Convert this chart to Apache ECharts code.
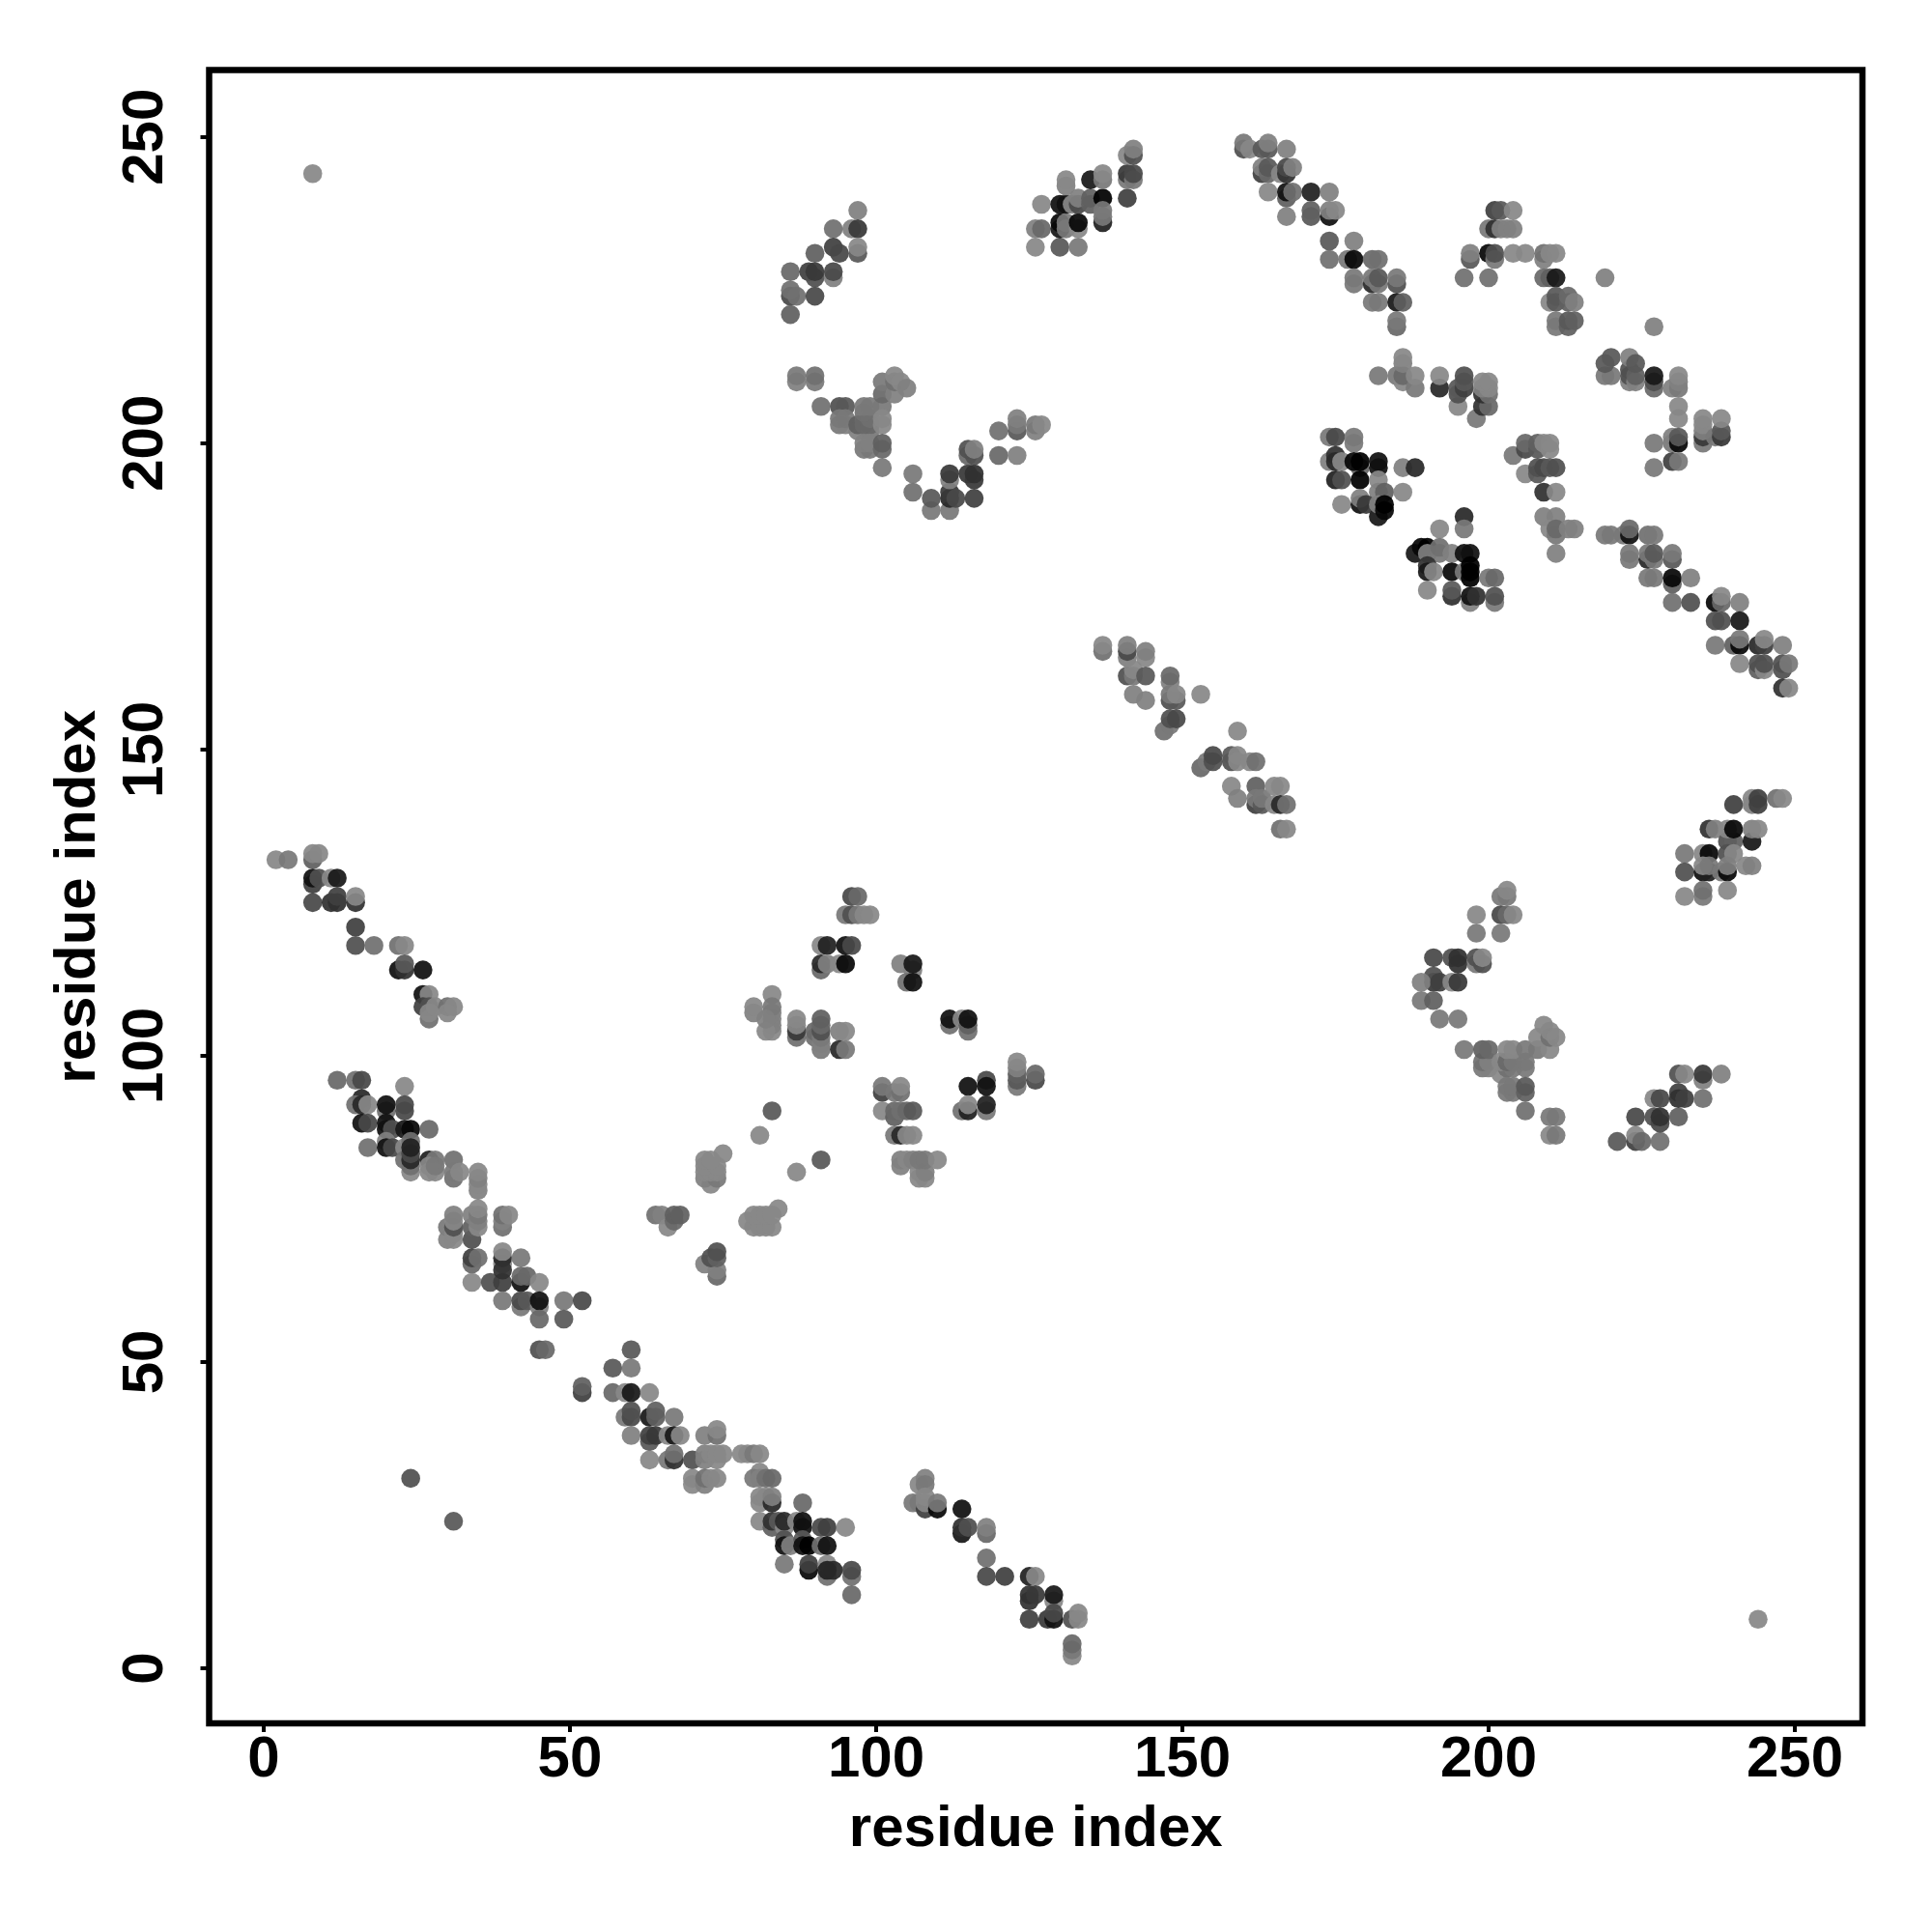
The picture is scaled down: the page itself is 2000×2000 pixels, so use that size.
<!DOCTYPE html>
<html><head><meta charset="utf-8">
<style>html,body{margin:0;padding:0;background:#fff}#c{width:2000px;height:2000px}</style>
<script src="https://cdn.jsdelivr.net/npm/echarts@6/dist/echarts.min.js"></script>
</head><body><div id="c"></div>
<script>
// Each contact: [residue x, residue y, grey level]
const outliers=[[8,244,0x88],[244,8,0x88],[24,31,0x50],[31,24,0x58]];
const bandA=[[2,132,0x88],[4,132,0x78],[8,132,0x60],[8,133,0x88],[9,133,0x88],[8,128,0x40],[8,129,0x10],[9,129,0x50],[11,129,0x88],[12,129,0x18],[8,125,0x48],[11,125,0x30],[12,125,0x30],[12,126,0x40],[15,125,0x30],[15,126,0x88],[15,121,0x40],[15,118,0x50],[18,118,0x70],[22,118,0x70],[23,118,0x88],[22,114,0x10],[23,114,0x30],[23,115,0x58],[26,114,0x10],[26,110,0x10],[27,110,0x88],[26,108,0x40],[27,108,0x50],[27,106,0x70],[27,107,0x88],[28,108,0x88],[30,108,0x70],[30,107,0x88],[31,108,0x88]];
const bandB=[[12,96,0x68],[15,96,0x70],[16,96,0x48],[23,95,0x88],[16,93,0x28],[15,92,0x70],[16,92,0x28],[17,92,0x88],[20,91,0x70],[20,92,0x10],[23,91,0x48],[23,92,0x48],[16,89,0x10],[17,89,0x48],[20,89,0x10],[20,88,0x10],[21,88,0x50],[23,88,0x18],[24,88,0x08],[27,88,0x68],[17,85,0x70],[20,86,0x80],[20,85,0x10],[21,85,0x48],[23,85,0x88],[24,86,0x70],[24,81,0x88],[24,82,0x70],[23,83,0x70],[24,83,0x28],[24,84,0x48],[24,85,0x20],[27,83,0x20],[28,83,0x78],[27,81,0x88],[28,81,0x88],[27,82,0x88],[28,82,0x78],[31,83,0x70],[31,80,0x70],[31,81,0x78],[32,81,0x88],[35,78,0x80],[35,79,0x88],[35,80,0x80],[35,81,0x88],[30,72,0x78],[30,70,0x80],[31,70,0x88],[31,71,0x88],[31,72,0x50],[31,73,0x88],[31,74,0x80],[34,70,0x50],[34,72,0x60],[34,74,0x80],[35,72,0x88],[35,73,0x80],[35,74,0x78],[35,75,0x88],[39,72,0x70],[39,73,0x80],[39,74,0x70],[40,74,0x88],[34,66,0x68],[34,67,0x40],[35,67,0x70],[39,66,0x88],[39,67,0x28],[39,68,0x88],[42,67,0x78],[34,63,0x88],[37,63,0x50],[39,63,0x40],[39,65,0x30],[42,63,0x10],[42,64,0x68],[43,64,0x68],[45,63,0x88],[39,60,0x78],[42,59,0x78],[42,60,0x48],[43,60,0x58],[45,59,0x80],[45,60,0x10],[45,57,0x68],[49,60,0x78],[52,60,0x48],[49,57,0x58],[45,52,0x50],[46,52,0x68]];
const bandC=[[60,52,0x58],[57,49,0x58],[60,49,0x78],[52,45,0x40],[52,46,0x60],[57,45,0x68],[59,45,0x88],[60,45,0x18],[63,45,0x88],[59,41,0x78],[60,41,0x48],[60,42,0x50],[63,41,0x18],[64,41,0x60],[64,42,0x60],[67,41,0x78],[60,38,0x80],[63,37,0x58],[63,38,0x40],[64,38,0x38],[66,38,0x88],[67,38,0x18],[68,38,0x88],[63,34,0x88],[66,34,0x78],[67,34,0x30],[67,35,0x70],[70,34,0x50],[72,38,0x80],[74,38,0x70],[74,39,0x88],[72,34,0x80],[72,35,0x80],[73,35,0x88],[74,34,0x88],[74,35,0x88],[75,35,0x88],[70,30,0x88],[70,31,0x88],[72,30,0x80],[72,31,0x70],[73,31,0x88],[74,31,0x88],[78,35,0x88],[79,35,0x88],[80,35,0x78],[81,35,0x88],[81,32,0x88],[80,31,0x78],[81,31,0x80],[82,31,0x70],[83,31,0x68],[81,27,0x88],[81,28,0x88],[82,28,0x88],[83,27,0x28],[83,28,0x80],[88,27,0x68],[81,24,0x88],[83,23,0x60],[83,24,0x30],[84,24,0x58],[85,23,0x88],[85,24,0x28],[87,24,0x88],[88,23,0x10],[88,24,0x10],[91,23,0x48],[92,23,0x40],[95,23,0x88],[85,21,0x50],[85,20,0x10],[86,20,0x80],[88,21,0x58],[88,20,0x10],[89,20,0x00],[91,20,0x70],[92,20,0x10],[85,17,0x78],[89,16,0x08],[89,17,0x40],[92,15,0x70],[92,17,0x88],[92,16,0x20],[93,16,0x28],[96,15,0x70],[96,16,0x48],[96,12,0x68]];
const bandD=[[107,30,0x88],[108,31,0x80],[108,30,0x78],[106,27,0x78],[107,27,0x78],[108,26,0x40],[108,27,0x88],[108,28,0x88],[110,26,0x08],[110,27,0x78],[114,26,0x10],[114,22,0x18],[114,23,0x30],[115,23,0x50],[118,22,0x68],[118,23,0x80],[118,18,0x70],[118,15,0x48],[121,15,0x40],[125,15,0x20],[126,15,0x88],[125,11,0x30],[125,12,0x30],[126,12,0x38],[129,11,0x88],[129,12,0x18],[125,8,0x40],[128,8,0x38],[129,8,0x10],[129,9,0x48],[132,8,0x50],[133,8,0x88],[133,9,0x88],[132,2,0x88],[132,3,0x78],[132,4,0x68]];
const centreA=[[96,126,0x48],[97,126,0x68],[95,123,0x78],[96,123,0x50],[97,123,0x78],[98,123,0x88],[99,123,0x88],[91,118,0x88],[92,118,0x20],[95,118,0x10],[96,118,0x48],[91,114,0x68],[91,115,0x28],[92,115,0x80],[94,115,0x88],[95,115,0x08],[104,115,0x80],[106,114,0x80],[106,115,0x18],[105,112,0x70],[106,112,0x10],[83,110,0x88],[80,107,0x80],[80,108,0x88],[83,104,0x88],[83,105,0x80],[83,106,0x80],[83,107,0x80],[83,108,0x78],[82,104,0x88],[82,106,0x80],[87,103,0x70],[87,104,0x38],[87,105,0x88],[87,106,0x88],[90,103,0x70],[90,104,0x68],[91,101,0x78],[91,102,0x80],[91,103,0x78],[91,104,0x50],[91,105,0x68],[91,106,0x60],[94,104,0x80],[95,104,0x88],[94,101,0x28],[95,101,0x78],[112,105,0x70],[112,106,0x10],[114,106,0x88],[115,104,0x70],[115,105,0x60],[115,106,0x10],[123,95,0x78],[123,96,0x58],[123,97,0x60],[123,98,0x80],[123,99,0x88],[126,96,0x48],[126,97,0x68],[118,96,0x48],[118,95,0x10],[115,95,0x10],[114,91,0x70],[115,91,0x20],[115,92,0x88],[118,91,0x78],[118,92,0x20]];
const centreB=[[101,94,0x40],[101,95,0x78],[103,94,0x78],[104,94,0x70],[104,95,0x88],[101,91,0x88],[103,90,0x60],[103,91,0x68],[104,91,0x70],[105,91,0x68],[106,91,0x58],[103,87,0x78],[104,87,0x28],[105,87,0x88],[106,87,0x88],[104,82,0x80],[104,83,0x80],[105,83,0x88],[106,83,0x80],[107,80,0x88],[107,81,0x88],[108,80,0x88],[108,81,0x80],[107,83,0x78],[108,83,0x78],[110,83,0x88],[83,91,0x58],[81,87,0x88],[91,83,0x58],[87,81,0x88],[75,84,0x88],[73,79,0x88],[72,80,0x80],[74,80,0x78],[72,81,0x88],[73,81,0x88],[74,81,0x88],[72,82,0x88],[74,82,0x88],[72,83,0x88],[73,83,0x88],[64,74,0x70],[65,74,0x80],[66,72,0x88],[67,73,0x68],[67,74,0x60],[68,74,0x60],[84,75,0x88],[79,73,0x88],[80,72,0x88],[81,72,0x88],[82,72,0x88],[83,72,0x88],[80,74,0x88],[81,74,0x88],[82,74,0x88],[83,74,0x88],[74,64,0x68],[74,65,0x80],[72,66,0x80],[73,67,0x50],[74,67,0x60],[74,68,0x50]];
const stripF=[[137,166,0x70],[137,167,0x88],[141,165,0x80],[141,166,0x48],[141,167,0x80],[144,165,0x88],[144,166,0x80],[141,162,0x50],[142,162,0x78],[142,163,0x88],[144,162,0x58],[142,159,0x80],[144,158,0x80],[148,161,0x80],[148,162,0x68],[148,158,0x50],[149,158,0x58],[148,159,0x78],[149,159,0x88],[147,153,0x70],[148,154,0x78],[148,155,0x50],[149,155,0x48],[153,159,0x88],[159,153,0x88],[153,147,0x68],[154,148,0x78],[155,148,0x50],[155,149,0x48],[158,148,0x50],[158,149,0x58],[159,148,0x88],[159,149,0x88],[161,148,0x88],[162,148,0x70],[158,144,0x88],[159,142,0x80],[162,144,0x60],[162,141,0x40],[162,142,0x78],[163,141,0x58],[163,142,0x78],[165,144,0x88],[166,144,0x88],[165,141,0x88],[166,141,0x28],[167,141,0x70],[166,137,0x70],[167,137,0x88]];
const wingG=[[202,126,0x78],[203,126,0x78],[203,127,0x88],[198,123,0x88],[202,123,0x48],[203,123,0x68],[204,123,0x88],[198,120,0x78],[202,120,0x78],[191,116,0x48],[194,116,0x50],[195,115,0x30],[195,116,0x30],[198,115,0x78],[199,115,0x50],[198,116,0x50],[199,116,0x88],[191,112,0x38],[191,113,0x50],[189,112,0x80],[192,112,0x40],[194,112,0x88],[195,112,0x38],[189,109,0x78],[191,109,0x60],[192,106,0x78],[195,106,0x78]];
const wingH=[[196,101,0x78],[199,98,0x78],[200,98,0x80],[199,99,0x70],[200,99,0x80],[199,101,0x60],[200,101,0x68],[202,97,0x88],[203,98,0x70],[204,98,0x78],[202,99,0x88],[203,99,0x68],[204,99,0x78],[206,98,0x78],[206,99,0x78],[203,101,0x88],[204,101,0x88],[206,101,0x78],[203,94,0x78],[204,94,0x78],[203,95,0x78],[204,95,0x78],[206,94,0x60],[206,95,0x58],[206,91,0x70],[208,101,0x78],[210,101,0x88],[208,103,0x88],[209,105,0x88],[210,103,0x70],[210,104,0x88],[211,103,0x88],[210,90,0x78],[211,90,0x78],[210,87,0x88],[211,87,0x78]];
const wingI=[[221,86,0x58],[224,90,0x48],[224,86,0x40],[224,87,0x88],[225,86,0x68],[228,86,0x70],[227,93,0x88],[228,93,0x48],[227,90,0x50],[228,89,0x48],[228,90,0x30],[231,90,0x60],[231,94,0x40],[231,93,0x30],[232,93,0x40],[235,93,0x70],[231,97,0x50],[232,97,0x88],[235,96,0x80],[235,97,0x38],[238,97,0x80]];
const wingJ=[[240,141,0x40],[243,141,0x80],[243,142,0x88],[244,141,0x40],[244,142,0x40],[247,142,0x70],[248,142,0x88],[236,137,0x30],[237,137,0x80],[239,135,0x50],[240,135,0x60],[239,137,0x88],[240,137,0x08],[243,135,0x18],[243,137,0x80],[244,137,0x88],[232,133,0x78],[235,133,0x88],[236,133,0x08],[239,133,0x50],[240,133,0x88],[232,130,0x50],[235,130,0x10],[236,130,0x20],[235,131,0x88],[236,131,0x78],[238,130,0x78],[239,130,0x08],[239,131,0x80],[242,131,0x88],[243,131,0x80],[232,126,0x88],[235,126,0x78],[235,127,0x70],[239,127,0x88]];
const arcK=[[97,238,0x80],[96,235,0x80],[97,235,0x38],[93,235,0x70],[93,232,0x40],[94,231,0x48],[97,231,0x58],[97,232,0x88],[90,231,0x60],[86,228,0x68],[89,228,0x40],[90,227,0x50],[90,228,0x38],[93,227,0x80],[93,228,0x48],[86,224,0x48],[86,225,0x70],[87,224,0x70],[90,224,0x48],[86,221,0x60]];
const arcL=[[87,210,0x80],[87,211,0x78],[90,210,0x78],[90,211,0x70],[91,206,0x70],[94,206,0x50],[95,206,0x58],[94,203,0x78],[95,203,0x80],[94,204,0x78],[95,204,0x78],[97,202,0x80],[97,203,0x60],[99,202,0x78],[98,203,0x68],[99,203,0x68],[99,204,0x70],[98,205,0x70],[98,206,0x78],[99,206,0x78],[101,206,0x78],[101,203,0x88],[101,204,0x88],[98,199,0x78],[99,199,0x78],[98,200,0x80],[99,200,0x80],[101,199,0x68],[101,200,0x60],[101,196,0x78],[101,208,0x68],[101,210,0x78],[103,208,0x80],[103,210,0x70],[103,211,0x88],[104,210,0x88],[105,209,0x80]];
const arcM=[[106,195,0x78],[106,192,0x70],[109,189,0x78],[109,191,0x58],[112,189,0x78],[112,191,0x28],[112,192,0x38],[113,191,0x48],[112,194,0x80],[112,195,0x38],[116,191,0x40],[116,194,0x38],[115,195,0x38],[116,195,0x30],[115,198,0x68],[116,198,0x50],[115,199,0x50],[116,199,0x80],[120,202,0x70],[120,198,0x68],[123,198,0x80],[123,202,0x58],[123,203,0x78],[123,204,0x80],[126,202,0x80],[126,203,0x78],[127,203,0x88]];
const topN=[[126,235,0x80],[127,235,0x68],[126,232,0x88],[130,232,0x58],[133,232,0x78],[127,239,0x88],[130,235,0x18],[130,236,0x08],[131,235,0x78],[131,236,0x78],[133,235,0x88],[133,236,0x08],[130,239,0x10],[131,239,0x10],[131,242,0x80],[131,243,0x88],[132,239,0x88],[133,239,0x48],[133,240,0x80],[135,239,0x60],[135,240,0x60],[137,240,0x00],[137,236,0x20],[137,237,0x78],[137,238,0x78],[135,243,0x18],[137,243,0x78],[137,244,0x88],[141,240,0x40],[141,243,0x78],[141,244,0x38],[142,243,0x78],[142,244,0x48],[141,247,0x88],[142,247,0x50],[142,248,0x80]];
const topO=[[160,248,0x50],[160,249,0x78],[161,248,0x88],[163,248,0x58],[164,248,0x58],[164,249,0x80],[167,248,0x80],[163,244,0x40],[163,245,0x80],[164,244,0x68],[164,245,0x58],[166,244,0x88],[167,244,0x30],[167,245,0x48],[168,245,0x80],[164,241,0x88],[167,240,0x60],[167,241,0x10],[168,241,0x70],[167,237,0x80],[171,241,0x20],[174,241,0x80],[171,237,0x58],[171,238,0x60],[174,237,0x10],[174,238,0x80],[175,238,0x88],[174,233,0x58],[178,233,0x80],[174,230,0x70],[177,230,0x78],[178,230,0x08],[181,230,0x68],[182,230,0x70],[178,226,0x78],[178,227,0x78],[181,226,0x28],[181,227,0x78],[182,226,0x78],[182,227,0x58],[185,226,0x50],[185,227,0x78],[181,223,0x78],[182,223,0x78],[185,223,0x18],[186,223,0x60],[185,219,0x68],[185,220,0x78]];
const topP=[[201,238,0x40],[202,238,0x58],[204,238,0x88],[200,235,0x78],[201,235,0x30],[202,235,0x80],[203,235,0x80],[204,235,0x80],[197,230,0x58],[197,231,0x80],[200,231,0x08],[201,230,0x78],[201,231,0x50],[204,231,0x88],[206,231,0x88],[209,230,0x80],[209,231,0x70],[210,231,0x88],[211,231,0x88],[196,227,0x70],[200,227,0x70],[209,227,0x68],[210,227,0x60],[211,227,0x18],[219,227,0x80],[210,223,0x88],[211,223,0x58],[211,224,0x58],[213,223,0x60],[213,224,0x68],[214,223,0x80],[211,219,0x78],[211,220,0x78],[213,219,0x60],[213,220,0x58],[214,220,0x60],[227,219,0x80]];
const midQ=[[182,211,0x78],[185,211,0x78],[186,210,0x88],[186,211,0x68],[186,213,0x80],[186,214,0x88],[188,209,0x78],[188,211,0x88],[192,209,0x28],[192,211,0x88],[195,206,0x88],[195,208,0x50],[195,209,0x58],[196,209,0x40],[196,210,0x58],[196,211,0x50],[198,204,0x78],[199,206,0x30],[200,206,0x68],[199,208,0x30],[200,208,0x70],[199,209,0x80],[200,209,0x88],[199,210,0x88],[200,210,0x88]];
const midR=[[174,201,0x78],[175,201,0x48],[178,200,0x78],[178,201,0x78],[174,197,0x80],[175,198,0x30],[175,197,0x28],[176,197,0x88],[179,196,0x68],[178,197,0x08],[179,197,0x00],[182,196,0x10],[182,197,0x10],[186,196,0x80],[188,196,0x28],[175,194,0x20],[176,194,0x50],[179,194,0x00],[182,194,0x88],[182,192,0x80],[183,192,0x60],[186,192,0x88],[176,190,0x88],[179,190,0x10],[179,191,0x80],[180,190,0x38],[182,188,0x18],[182,190,0x80],[183,189,0x08],[183,190,0x00]];
const midS=[[196,188,0x28],[192,186,0x88],[196,186,0x78],[188,182,0x18],[189,183,0x08],[190,183,0x00],[190,182,0x80],[192,182,0x78],[192,183,0x70],[194,182,0x80],[196,182,0x10],[197,182,0x10],[190,180,0x30],[190,179,0x18],[191,179,0x88],[194,179,0x08],[196,179,0x78],[197,178,0x00],[197,179,0x00],[197,180,0x00],[200,178,0x78],[201,178,0x68],[190,176,0x88],[194,175,0x30],[194,176,0x58],[197,174,0x80],[197,175,0x10],[198,175,0x30],[201,174,0x78],[201,175,0x50]];
const midT=[[204,198,0x78],[206,199,0x48],[206,200,0x68],[208,199,0x58],[208,200,0x60],[209,200,0x88],[210,199,0x88],[210,200,0x88],[206,195,0x88],[208,195,0x58],[208,196,0x50],[209,196,0x48],[210,196,0x58],[211,196,0x50],[209,192,0x30],[211,192,0x88],[209,188,0x80],[211,188,0x80],[210,186,0x88],[211,185,0x78],[211,186,0x68],[213,186,0x80],[214,186,0x80],[211,182,0x80]];
const rightU=[[219,211,0x78],[220,211,0x78],[219,213,0x58],[220,214,0x58],[223,210,0x80],[223,211,0x50],[223,212,0x50],[223,214,0x80],[224,210,0x80],[224,211,0x60],[224,213,0x58],[227,209,0x68],[227,210,0x50],[227,211,0x18],[230,209,0x80],[231,209,0x78],[231,210,0x80],[231,211,0x88],[231,206,0x88],[231,204,0x88],[227,200,0x78],[230,200,0x78],[230,201,0x80],[231,200,0x08],[231,201,0x58],[227,196,0x78],[230,197,0x40],[231,197,0x78],[235,200,0x78],[235,201,0x38],[235,202,0x80],[235,203,0x88],[235,204,0x88],[237,201,0x78],[238,201,0x38],[238,202,0x58],[238,204,0x88]];
const rightV=[[219,185,0x78],[220,185,0x78],[222,185,0x78],[223,185,0x10],[223,186,0x68],[226,185,0x70],[227,185,0x78],[223,181,0x78],[223,182,0x78],[226,181,0x28],[226,182,0x78],[227,181,0x78],[227,182,0x58],[230,181,0x58],[230,182,0x78],[226,178,0x78],[227,178,0x78],[230,177,0x60],[230,178,0x08],[233,178,0x80],[230,174,0x70],[233,174,0x50],[237,174,0x08],[238,174,0x68],[238,175,0x88],[241,174,0x80],[237,171,0x50],[238,171,0x50],[241,171,0x18],[237,167,0x78],[240,167,0x60],[241,167,0x08],[241,168,0x78],[244,167,0x28],[245,167,0x40],[245,168,0x88],[248,167,0x80],[241,164,0x88],[244,163,0x60],[244,164,0x50],[245,163,0x88],[245,164,0x50],[248,163,0x50],[248,164,0x50],[249,164,0x78],[248,160,0x30],[249,160,0x88]];
const tickValues=[0,50,100,150,200,250];
const axisTitle='residue index';

const contacts=[].concat(outliers,bandA,bandB,bandC,bandD,centreA,centreB,stripF,wingG,wingH,wingI,wingJ,arcK,arcL,arcM,topN,topO,topP,midQ,midR,midS,midT,rightU,rightV);
const font={fontFamily:'Liberation Sans',fontWeight:'bold',fontSize:60,color:'#000'};
function axis(min,max,extra){
  return Object.assign({type:'value',min:min,max:max,name:axisTitle,nameLocation:'middle',
    nameTextStyle:font,nameMoveOverlap:false,splitLine:{show:false},axisLine:{show:false,onZero:false},
    axisTick:{show:true,length:9,lineStyle:{color:'#000',width:4},customValues:tickValues}},extra);
}
const chart=echarts.init(document.getElementById('c'),null,{renderer:'canvas'});
chart.setOption({
  animation:false,backgroundColor:'#fff',
  grid:{show:true,left:216.5,top:72.6,width:1711.5,height:1711.4,borderColor:'#000',borderWidth:6.5,backgroundColor:'#fff',containLabel:false},
  xAxis:axis(-8.91,261.04,{nameGap:80,axisLabel:Object.assign({},font,{margin:8,customValues:tickValues})}),
  yAxis:axis(-8.99,260.9,{nameGap:105,axisLabel:Object.assign({},font,{rotate:90,margin:65,customValues:tickValues,align:'center',verticalAlign:'middle'})}),
  series:[{type:'scatter',symbol:'circle',symbolSize:19.6,data:contacts,clip:false,
    itemStyle:{opacity:0.93,color:function(p){const g=p.value[2];return 'rgb('+g+','+g+','+g+')';}}}]
});
</script></body></html>
